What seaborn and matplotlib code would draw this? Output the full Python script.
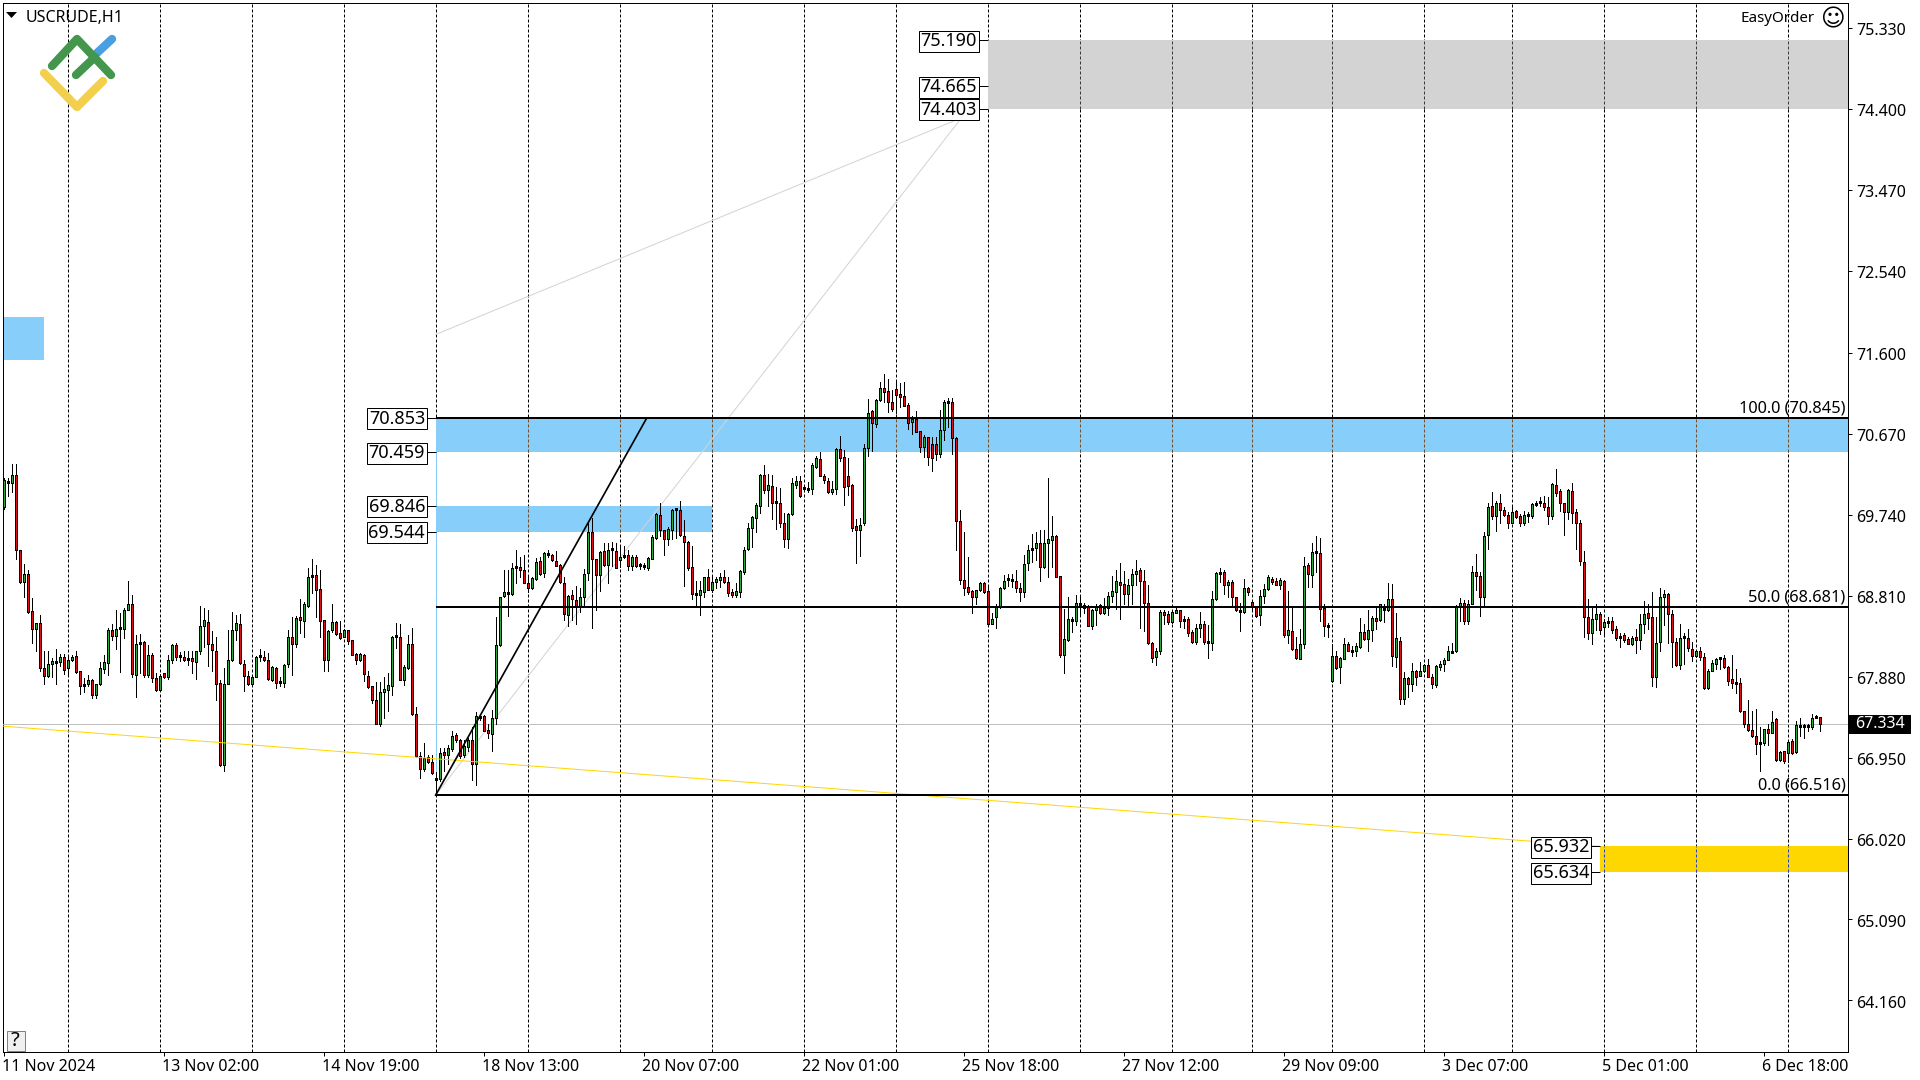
import numpy as np
import pandas as pd
import seaborn as sns
import matplotlib
matplotlib.use('Agg')
import matplotlib.pyplot as plt
from matplotlib.patches import Rectangle
from matplotlib.transforms import ScaledTranslation

# Hourly USCRUDE candles
opens = [
    69.83,70.13,70.10,70.20,69.33,68.97,69.06,68.63,68.43,68.50,67.98,67.89,68.03,68.04,68.05,68.11,67.98,68.07,68.12,67.94,
    67.79,67.79,67.84,67.67,67.79,67.97,68.04,68.41,68.35,68.44,68.43,68.65,68.72,67.90,68.25,68.28,67.90,68.13,67.86,67.73,
    67.92,67.87,68.07,68.24,68.12,68.11,68.09,68.09,68.05,68.18,68.46,68.51,68.26,68.18,67.81,66.86,67.80,68.07,68.41,68.49,
    68.03,67.89,67.80,67.87,68.10,68.11,68.07,67.84,67.98,67.82,67.81,68.02,68.34,68.26,68.56,68.52,68.69,69.03,69.05,68.89,
    68.53,68.07,68.41,68.51,68.38,68.34,68.41,68.30,68.14,68.07,68.13,67.89,67.77,67.61,67.33,67.70,67.73,67.77,68.33,68.34,
    67.84,67.98,68.26,67.45,66.97,66.82,66.96,66.90,66.71,66.70,67.01,66.98,67.05,67.21,67.15,66.98,67.07,67.15,66.88,67.41,
    67.43,67.27,67.22,67.40,68.24,68.81,68.85,68.83,69.13,69.14,69.10,68.96,68.90,69.00,69.21,69.07,69.28,69.28,69.21,69.16,
    68.96,68.59,68.82,68.76,68.68,68.79,69.07,69.54,69.23,69.05,69.32,69.16,69.33,69.32,69.22,69.25,69.28,69.15,69.26,69.15,
    69.16,69.13,69.23,69.47,69.74,69.56,69.46,69.57,69.79,69.80,69.50,69.43,69.14,68.84,68.82,68.85,69.02,68.88,68.97,68.99,
    69.03,68.97,68.85,68.82,68.85,69.08,69.35,69.59,69.70,69.84,70.20,70.02,70.07,69.87,69.88,69.65,69.46,69.75,70.08,70.13,
    70.05,70.02,70.03,70.29,70.38,70.19,70.13,70.00,70.03,70.49,70.40,70.18,70.08,69.61,69.57,69.65,70.51,70.93,70.78,71.06,
    71.20,71.16,71.04,71.18,71.13,71.10,71.00,70.80,70.84,70.70,70.52,70.63,70.55,70.55,70.44,70.71,71.03,71.03,70.62,69.67,
    68.99,68.91,68.86,68.79,68.87,68.95,68.86,68.49,68.57,68.68,68.90,68.99,69.00,68.98,68.90,68.85,69.18,69.33,69.36,69.41,
    69.14,69.41,69.45,69.49,69.04,68.13,68.30,68.52,68.52,68.73,68.70,68.69,68.46,68.65,68.70,68.61,68.67,68.81,68.85,68.97,
    68.94,68.83,68.93,69.06,69.10,68.98,68.73,68.27,68.10,68.18,68.62,68.60,68.51,68.61,68.64,68.54,68.54,68.39,68.28,68.44,
    68.48,68.29,68.27,68.77,69.06,69.08,68.93,68.97,68.79,68.64,68.62,68.90,68.74,68.68,68.59,68.81,68.89,69.00,68.98,68.93,
    68.98,68.36,68.40,68.20,68.08,68.25,69.16,69.05,69.30,69.30,68.67,68.46,67.83,68.12,67.99,68.08,68.26,68.17,68.17,68.22,
    68.39,68.31,68.42,68.55,68.53,68.67,68.64,68.77,68.11,68.29,67.62,67.86,67.79,67.95,67.89,67.94,68.01,67.88,67.78,67.99,
    68.02,68.07,68.15,68.18,68.68,68.73,68.52,68.72,69.08,69.04,68.80,69.51,69.84,69.73,69.87,69.80,69.74,69.65,69.78,69.72,
    69.65,69.73,69.73,69.85,69.87,69.88,69.83,69.72,70.08,70.01,69.87,69.77,70.01,69.77,69.64,69.20,68.57,68.38,68.54,68.60,
    68.45,68.51,68.52,68.43,68.32,68.36,68.31,68.26,68.33,68.30,68.48,68.61,68.56,67.88,68.28,68.80,68.83,68.60,68.28,68.01,
    68.32,68.32,68.20,68.12,68.17,68.11,67.75,67.95,68.02,68.08,68.09,67.99,67.85,67.82,67.81,67.48,67.34,67.27,67.20,67.12,
    67.12,67.28,67.23,67.39,66.92,67.02,67.00,67.14,67.01,67.32,67.30,67.30,67.30,67.41,67.42,
]
highs = [
    70.16,70.16,70.32,70.32,69.33,69.17,69.11,68.78,68.50,68.59,68.18,68.18,68.09,68.20,68.14,68.14,68.13,68.13,68.18,67.95,
    67.86,67.90,67.85,67.80,68.05,68.13,68.44,68.49,68.65,68.61,68.67,68.98,68.82,68.36,68.37,68.29,68.24,68.15,67.92,67.91,
    67.92,68.13,68.25,68.27,68.16,68.17,68.18,68.17,68.18,68.69,68.67,68.64,68.40,68.34,67.84,67.98,68.41,68.62,68.59,68.60,
    68.07,67.94,67.89,68.12,68.20,68.18,68.15,68.00,67.99,67.88,68.02,68.41,68.57,68.58,68.77,68.74,69.13,69.23,69.16,69.11,
    68.53,68.41,68.71,68.52,68.52,68.43,68.41,68.30,68.15,68.15,68.14,67.95,67.77,67.82,67.82,67.87,67.92,68.35,68.50,68.48,
    68.01,68.36,68.44,67.53,67.01,67.12,66.98,66.98,66.78,67.06,67.06,67.10,67.25,67.23,67.16,67.15,67.17,67.30,67.47,67.44,
    67.44,67.34,67.50,68.57,68.80,69.10,69.10,69.19,69.34,69.26,69.28,69.02,69.02,69.24,69.25,69.31,69.34,69.29,69.32,69.17,
    69.02,68.82,68.87,68.92,68.90,69.12,69.66,69.70,69.23,69.32,69.41,69.41,69.43,69.42,69.39,69.38,69.33,69.28,69.28,69.19,
    69.18,69.26,69.51,69.76,69.87,69.57,69.60,69.81,69.81,69.90,69.68,69.44,69.38,68.98,68.98,69.03,69.12,69.04,69.03,69.07,
    69.11,69.03,68.89,68.95,69.11,69.37,69.64,69.73,69.88,70.21,70.31,70.21,70.20,70.06,70.05,69.76,69.76,70.16,70.18,70.18,
    70.08,70.12,70.33,70.41,70.46,70.21,70.16,70.13,70.51,70.64,70.48,70.39,70.09,69.69,69.70,70.55,71.07,70.94,71.07,71.27,
    71.36,71.30,71.17,71.29,71.25,71.26,71.02,70.88,70.93,70.70,70.66,70.63,70.63,70.63,70.94,71.06,71.08,71.08,70.63,69.79,
    69.54,69.25,68.87,68.88,68.97,68.97,68.93,68.61,68.72,68.91,69.05,69.06,69.06,69.11,68.95,69.28,69.39,69.52,69.54,69.56,
    69.56,70.16,69.72,69.51,69.04,68.66,68.79,68.56,68.82,68.80,68.73,68.70,68.66,68.72,68.71,68.78,68.85,69.04,69.10,69.18,
    69.09,69.00,69.12,69.22,69.13,69.10,68.93,68.28,68.21,68.64,68.64,68.63,68.64,68.67,68.64,68.58,68.57,68.42,68.49,68.62,
    68.52,68.47,68.86,69.08,69.13,69.10,68.99,68.99,68.80,68.73,69.00,68.91,68.75,68.69,68.88,68.94,69.05,69.03,69.01,69.01,
    68.99,68.86,68.67,68.33,68.43,69.26,69.18,69.42,69.50,69.47,68.72,68.50,68.25,68.17,68.11,68.32,68.28,68.23,68.27,68.55,
    68.49,68.65,68.58,68.68,68.72,68.71,68.95,68.94,68.61,68.33,67.93,67.88,68.04,67.96,68.05,68.02,68.08,67.91,68.01,68.06,
    68.09,68.23,68.27,68.70,68.78,68.76,68.76,69.15,69.29,69.08,69.54,69.88,70.00,69.90,69.98,69.83,69.77,69.83,69.79,69.75,
    69.78,69.77,69.88,69.90,69.94,69.95,69.94,70.10,70.26,70.03,69.88,70.03,70.11,69.81,69.68,69.32,68.77,68.68,68.71,68.62,
    68.54,68.56,68.56,68.46,68.38,68.38,68.34,68.35,68.43,68.60,68.75,68.71,68.85,68.57,68.90,68.87,68.84,68.65,68.32,68.48,
    68.38,68.43,68.28,68.18,68.22,68.15,67.97,68.07,68.09,68.11,68.13,68.00,68.13,67.97,67.86,67.48,67.61,67.49,67.51,67.30,
    67.28,67.34,67.48,67.41,67.03,67.02,67.14,67.16,67.37,67.41,67.33,67.33,67.45,67.44,67.42,
]
lows = [
    69.81,69.96,70.00,69.23,68.96,68.79,68.61,68.27,68.18,67.95,67.80,67.88,67.88,67.80,68.00,67.91,67.91,68.06,67.92,67.68,
    67.70,67.77,67.63,67.64,67.78,67.92,67.90,68.30,68.20,67.93,68.32,68.64,67.88,67.65,67.92,67.87,67.87,67.82,67.72,67.72,
    67.86,67.85,68.04,68.07,68.06,68.06,68.01,67.92,67.85,68.14,68.22,68.00,67.95,67.61,66.85,66.79,67.79,68.06,68.30,68.03,
    67.72,67.78,67.79,67.87,68.06,68.06,67.84,67.83,67.75,67.77,67.76,67.99,67.90,68.22,68.38,68.34,68.68,68.84,68.56,68.34,
    67.95,67.94,68.39,68.36,68.31,68.33,68.26,68.13,68.03,68.06,67.83,67.75,67.58,67.33,67.31,67.41,67.49,67.67,68.21,67.84,
    67.78,67.97,67.44,66.96,66.71,66.80,66.89,66.76,66.52,66.68,66.79,66.88,67.03,67.13,66.95,66.96,67.03,66.69,66.64,67.38,
    67.25,67.18,67.03,67.33,68.23,68.80,68.58,68.82,68.95,69.03,68.95,68.85,68.89,68.99,69.05,69.03,69.25,69.21,69.15,68.95,
    68.53,68.46,68.53,68.48,68.62,68.68,68.99,68.44,68.64,68.86,69.15,68.95,69.15,69.13,69.14,69.24,69.10,69.10,69.14,69.12,
    69.12,69.10,69.23,69.46,69.49,69.28,69.39,69.46,69.47,69.49,68.92,69.10,68.77,68.70,68.59,68.80,68.87,68.85,68.90,68.91,
    68.96,68.81,68.80,68.80,68.79,69.06,69.34,69.37,69.54,69.76,69.99,69.84,69.69,69.58,69.60,69.37,69.36,69.74,70.05,69.94,
    70.02,70.00,69.98,70.28,70.18,70.10,69.99,69.98,69.98,70.36,69.85,69.97,69.55,69.19,69.27,69.62,70.41,70.47,70.75,71.05,
    71.03,70.92,70.93,70.91,70.98,70.99,70.72,70.67,70.69,70.46,70.40,70.31,70.24,70.37,70.40,70.60,70.75,70.44,69.33,68.94,
    68.82,68.83,68.61,68.71,68.86,68.84,68.48,68.48,68.44,68.67,68.89,68.92,68.91,68.85,68.75,68.80,69.10,69.20,69.22,68.98,
    69.13,69.03,69.14,69.03,68.11,67.92,68.29,68.39,68.47,68.59,68.61,68.46,68.43,68.47,68.60,68.60,68.59,68.74,68.66,68.54,
    68.72,68.70,68.72,68.93,68.44,68.40,68.26,68.05,68.01,68.14,68.49,68.49,68.50,68.61,68.45,68.44,68.35,68.27,68.25,68.34,
    68.26,68.09,68.19,68.76,68.97,68.83,68.80,68.68,68.63,68.40,68.61,68.82,68.64,68.56,68.47,68.73,68.87,68.94,68.93,68.89,
    68.33,68.27,68.19,68.08,68.08,68.21,68.91,68.91,69.08,68.52,68.35,68.33,67.82,67.97,67.81,68.08,68.17,68.12,68.12,68.21,
    68.30,68.18,68.29,68.43,68.52,68.51,68.63,68.00,67.99,67.57,67.56,67.65,67.72,67.78,67.89,67.93,67.87,67.75,67.76,67.96,
    67.95,68.07,68.15,68.16,68.52,68.49,68.48,68.71,68.87,68.58,68.68,69.35,69.69,69.55,69.65,69.73,69.59,69.64,69.70,69.61,
    69.62,69.66,69.70,69.84,69.84,69.79,69.63,69.69,69.95,69.78,69.51,69.69,69.65,69.35,69.16,68.34,68.31,68.25,68.42,68.37,
    68.36,68.45,68.38,68.30,68.22,68.28,68.25,68.24,68.15,68.20,68.38,68.43,67.77,67.76,68.18,68.47,68.27,67.99,68.00,67.97,
    68.03,68.18,68.06,68.11,68.07,67.74,67.74,67.95,67.97,67.97,67.98,67.78,67.75,67.69,67.47,67.30,67.26,67.19,66.99,66.80,
    67.10,67.09,67.23,66.91,66.91,66.89,66.90,66.99,67.00,67.20,67.18,67.25,67.28,67.40,67.26,
]
closes = [
    70.14,70.11,70.20,69.33,68.97,69.06,68.62,68.43,68.50,67.98,67.89,68.03,68.06,68.06,68.11,67.96,68.07,68.11,67.93,67.77,
    67.77,67.84,67.67,67.79,67.98,68.05,68.41,68.35,68.43,68.43,68.65,68.72,67.91,68.25,68.27,67.90,68.13,67.86,67.73,67.89,
    67.87,68.07,68.24,68.11,68.11,68.07,68.07,68.06,68.17,68.46,68.53,68.26,68.19,67.80,66.86,67.80,68.07,68.41,68.50,68.04,
    67.89,67.80,67.87,68.11,68.11,68.07,67.85,67.99,67.81,67.81,68.01,68.33,68.26,68.55,68.53,68.71,69.02,69.05,68.88,68.52,
    68.07,68.40,68.51,68.37,68.32,68.41,68.29,68.13,68.07,68.14,67.91,67.76,67.61,67.33,67.70,67.74,67.78,68.34,68.34,67.84,
    67.99,68.25,67.45,66.97,66.82,66.95,66.90,66.77,66.69,67.00,66.98,67.06,67.20,67.15,66.97,67.08,67.15,66.88,67.43,67.43,
    67.26,67.23,67.40,68.24,68.80,68.85,68.83,69.13,69.14,69.10,68.96,68.90,69.01,69.20,69.06,69.30,69.29,69.22,69.15,68.97,
    68.60,68.81,68.77,68.68,68.80,69.06,69.54,69.23,69.05,69.31,69.16,69.33,69.33,69.13,69.26,69.28,69.15,69.26,69.15,69.17,
    69.14,69.24,69.48,69.75,69.56,69.46,69.58,69.79,69.80,69.51,69.43,69.13,68.83,68.82,68.87,69.02,68.87,68.97,69.00,69.03,
    68.97,68.84,68.82,68.86,69.09,69.34,69.59,69.71,69.85,70.20,70.02,70.08,69.87,69.89,69.65,69.46,69.75,70.10,70.13,69.95,
    70.03,70.04,70.31,70.39,70.18,70.14,70.00,70.03,70.49,70.39,70.06,70.07,69.59,69.57,69.62,70.51,70.91,70.79,71.06,71.20,
    71.15,71.04,70.96,71.12,71.09,70.99,70.79,70.84,70.69,70.52,70.63,70.40,70.39,70.44,70.71,71.04,71.02,70.62,69.67,68.99,
    68.90,68.85,68.79,68.87,68.95,68.85,68.49,68.54,68.68,68.90,68.98,69.00,68.98,68.90,68.85,69.17,69.33,69.36,69.41,69.14,
    69.41,69.46,69.49,69.03,68.13,68.31,68.54,68.54,68.73,68.70,68.67,68.46,68.65,68.69,68.61,68.67,68.81,68.86,68.98,68.93,
    68.83,68.93,69.06,69.09,68.98,68.73,68.27,68.09,68.18,68.62,68.59,68.51,68.62,68.64,68.52,68.52,68.38,68.28,68.44,68.49,
    68.28,68.27,68.77,69.07,69.08,68.93,68.97,68.79,68.64,68.62,68.90,68.85,68.68,68.58,68.81,68.89,69.02,68.97,68.93,68.99,
    68.36,68.41,68.20,68.09,68.25,69.15,69.06,69.31,69.31,68.66,68.46,68.45,68.12,67.98,68.09,68.26,68.18,68.16,68.23,68.39,
    68.31,68.42,68.55,68.52,68.71,68.64,68.77,68.12,68.32,67.62,67.86,67.80,67.95,67.88,67.94,68.01,67.88,67.79,68.00,68.02,
    68.07,68.17,68.18,68.69,68.73,68.52,68.72,69.08,69.04,68.79,69.50,69.83,69.73,69.88,69.80,69.74,69.65,69.77,69.71,69.64,
    69.74,69.74,69.86,69.88,69.88,69.83,69.72,70.09,69.99,69.87,69.77,70.02,69.76,69.64,69.21,68.57,68.38,68.54,68.60,68.41,
    68.51,68.50,68.41,68.32,68.35,68.30,68.26,68.32,68.30,68.49,68.60,68.55,67.88,68.27,68.80,68.83,68.60,68.28,68.01,68.32,
    68.33,68.21,68.12,68.17,68.11,67.75,67.95,68.04,68.08,68.09,67.99,67.83,67.81,67.80,67.48,67.33,67.27,67.20,67.11,67.11,
    67.28,67.23,67.36,66.92,67.01,66.91,67.13,67.00,67.32,67.30,67.31,67.31,67.41,67.43,67.33,
]

# Axis labels
price_ticks = [75.33, 74.40, 73.47, 72.54, 71.60, 70.67, 69.74, 68.81, 67.88, 66.95, 66.02, 65.09, 64.16]
time_bars = [0, 40, 80, 120, 160, 200, 240, 280, 320, 360, 400, 440]
time_labels = ['11 Nov 2024', '13 Nov 02:00', '14 Nov 19:00', '18 Nov 13:00', '20 Nov 07:00', '22 Nov 01:00',
               '25 Nov 18:00', '27 Nov 12:00', '29 Nov 09:00', '3 Dec 07:00', '5 Dec 01:00', '6 Dec 18:00']
# Day separators (bar numbers)
separator_bars = [16, 39, 62, 85, 108, 131, 154, 177, 200, 223, 246, 269, 292, 312, 332, 355, 377, 400, 423, 446]

# Fibonacci levels (the top line sits on the zone edge in the picture)
fib_levels = [70.853, 68.681, 66.516]
fib_labels = ['100.0 (70.845)', '50.0 (68.681)', '0.0 (66.516)']
last_price = 67.334

# Target zones: low, high, first bar, last bar, colour, separator colour inside
XMIN, XMAX = -0.25, 461.0
YMIN, YMAX = 63.573, 75.625
zones = [
    (74.403, 75.190, 246, XMAX, '#d3d3d3', '#3a3a3a'),
    (70.459, 70.853, 108, XMAX, '#87cefa', '#7a4a22'),
    (69.544, 69.846, 108, 177, '#87cefa', '#7a4a22'),
    (71.52, 72.01, XMIN, 10, '#87cefa', '#7a4a22'),
    (65.634, 65.932, 399, XMAX, '#ffd700', '#2244cc'),
]
# Price boxes: level, right edge of box in bars, bar where the stub ends
price_boxes = [
    (75.190, 243.7, 246), (74.665, 243.7, 246), (74.403, 243.7, 246),
    (70.853, 105.7, 108), (70.459, 105.7, 108), (69.846, 105.7, 108), (69.544, 105.7, 108),
    (65.932, 396.7, 399), (65.634, 396.7, 399),
]
# Drawn lines
trend_bars, trend_prices = [0, 399], [67.31, 65.93]
impulse_bars, impulse_prices = [108, 160.8], [66.516, 70.85]
fan_low_bars, fan_low_prices = [108, 239.5], [66.516, 74.30]
fan_high_bars, fan_high_prices = [108, 239.5], [71.81, 74.30]

sns.set_theme(style='white')
plt.rcParams['font.family'] = ['Noto Sans', 'DejaVu Sans']
PX = 0.72  # one pixel in points at dpi 100
FS = 11.5
PRICE_PER_PX = (YMAX - YMIN) / 1049

df = pd.DataFrame({'open': opens, 'high': highs, 'low': lows, 'close': closes})
df['bar'] = np.arange(len(df))
df['top'] = df[['open', 'close']].max(axis=1)
df['bottom'] = df[['open', 'close']].min(axis=1)
# a body is never thinner than its outline
df['top'] = np.maximum(df['top'], df['bottom'] + 2 * PRICE_PER_PX)
up = df[df['close'] >= df['open']]
down = df[df['close'] < df['open']]

fig = plt.figure(figsize=(19.2, 10.8), dpi=100, facecolor='white')
ax = fig.add_axes([2.5 / 1920, 1 - 1051.5 / 1080, 1845 / 1920, 1049 / 1080])
ax.set_xlim(XMIN, XMAX)
ax.set_ylim(YMIN, YMAX)

# Separators first, zones cover them
dash = (0, (3, 2))
ax.vlines(separator_bars, YMIN, YMAX, colors='black', linewidth=PX, linestyles=[dash], zorder=1)
for low, high, start, end, color, through in zones:
    ax.fill_between([start, end], low, high, color=color, linewidth=0, zorder=2)
    inside = [b for b in separator_bars if start < b < end]
    ax.vlines(inside, low, high, colors=through, linewidth=PX, linestyles=[dash], zorder=2.5)

# Candles: wick, black body 3 px wide, 1 px fill in the middle
ax.vlines(df['bar'], df['low'], df['high'], colors='black', linewidth=PX, zorder=4, antialiased=False)
ax.vlines(df['bar'], df['bottom'], df['top'], colors='black', linewidth=3 * PX, zorder=4.1,
          antialiased=False, capstyle='butt')
ax.vlines(up['bar'], up['bottom'] + PRICE_PER_PX, up['top'] - PRICE_PER_PX, colors='#2fa83c', linewidth=PX,
          zorder=4.2, antialiased=False, capstyle='butt')
ax.vlines(down['bar'], down['bottom'] + PRICE_PER_PX, down['top'] - PRICE_PER_PX, colors='#e00f14', linewidth=PX,
          zorder=4.2, antialiased=False, capstyle='butt')

# Bid line and drawn objects
ax.axhline(last_price, color='#c0c0c0', linewidth=PX, zorder=3)
sns.lineplot(x=trend_bars, y=trend_prices, ax=ax, color='#ffd700', linewidth=PX, zorder=5)
sns.lineplot(x=fan_low_bars, y=fan_low_prices, ax=ax, color='#d3d3d3', linewidth=PX, zorder=3)
sns.lineplot(x=fan_high_bars, y=fan_high_prices, ax=ax, color='#d3d3d3', linewidth=PX, zorder=3)
sns.lineplot(x=impulse_bars, y=impulse_prices, ax=ax, color='black', linewidth=PX * 1.7, zorder=5)
ax.vlines(108, 66.516, 70.853, colors='#87cefa', linewidth=PX, zorder=3)

for level, label in zip(fib_levels, fib_labels):
    ax.hlines(level, 108, XMAX, colors='black', linewidth=PX * 2, zorder=5)
    ax.annotate(label, xy=(XMAX, level), xytext=(-1.5, 1.2), textcoords='offset points',
                ha='right', va='bottom', fontsize=11.8, color='black', zorder=6)

for level, right, stub in price_boxes:
    ax.hlines(level, right, stub, colors='black', linewidth=PX, zorder=5)
    ax.annotate(f'{level:.3f}', xy=(right - 0.3, level), xytext=(0, -0.72), textcoords='offset points',
                ha='right', va='center', fontsize=13, color='black', zorder=6,
                bbox=dict(boxstyle='square,pad=0.08', facecolor='white', edgecolor='black', linewidth=PX))

# Axes
ax.set_xticks(time_bars)
ax.set_xticklabels(time_labels, ha='left', fontsize=FS)
ax.set_yticks(price_ticks)
ax.set_yticklabels([f'{p:.3f}' for p in price_ticks], fontsize=FS)
ax.yaxis.tick_right()
ax.tick_params(axis='x', bottom=True, length=3, width=PX, pad=2.3, color='black', labelcolor='black')
ax.tick_params(axis='y', right=True, left=False, length=3, width=PX, pad=3, color='black', labelcolor='black')
for tick_label in ax.get_xticklabels():
    tick_label.set_transform(tick_label.get_transform() + ScaledTranslation(-1.5 / 100, 0, fig.dpi_scale_trans))
for tick_label in ax.get_yticklabels():
    tick_label.set_transform(tick_label.get_transform() + ScaledTranslation(0, -1.2 / 100, fig.dpi_scale_trans))
for spine in ax.spines.values():
    spine.set_visible(True)
    spine.set_color('black')
    spine.set_linewidth(PX)
ax.grid(False)
ax.set_xlabel('')
ax.set_ylabel('')

# Terminal furniture on an overlay in pixel units
over = fig.add_axes([0, 0, 1, 1], facecolor='none')
over.set_xlim(0, 1920)
over.set_ylim(1080, 0)
over.axis('off')
over.fill([6, 17, 11.5], [12, 12, 18], color='black', linewidth=0)
over.text(26, 17.5, 'USCRUDE,H1', fontsize=FS, va='center', ha='left', color='black')
over.text(1815, 18, 'EasyOrder', fontsize=10.9, va='center', ha='right', color='black')
over.text(1832, 19, '\u263a', fontsize=17, va='center', ha='center', color='black', family='DejaVu Sans')

logo_strokes = [
    ([97, 112], [53, 39], '#4a9fe0'),
    ([52, 77, 111], [66, 39, 75], '#43964b'),
    ([76, 95], [75, 57], '#43964b'),
    ([44, 77, 103], [73, 107, 81], '#f2cf4d'),
]
for xs, ys, color in logo_strokes:
    over.plot(xs, ys, color=color, linewidth=6, solid_capstyle='round', solid_joinstyle='round')

over.add_patch(Rectangle((6.5, 1030.5), 18, 20, facecolor='#f0f0f0', edgecolor='#808080', linewidth=PX))
over.text(15.5, 1041, '?', fontsize=FS + 3, ha='center', va='center', color='black')

over.add_patch(Rectangle((1849, 715), 62, 19, facecolor='black', edgecolor='none'))
over.text(1880, 724.5, '67.334', fontsize=FS, ha='center', va='center', color='white')

fig.savefig('out.png', dpi=100)
